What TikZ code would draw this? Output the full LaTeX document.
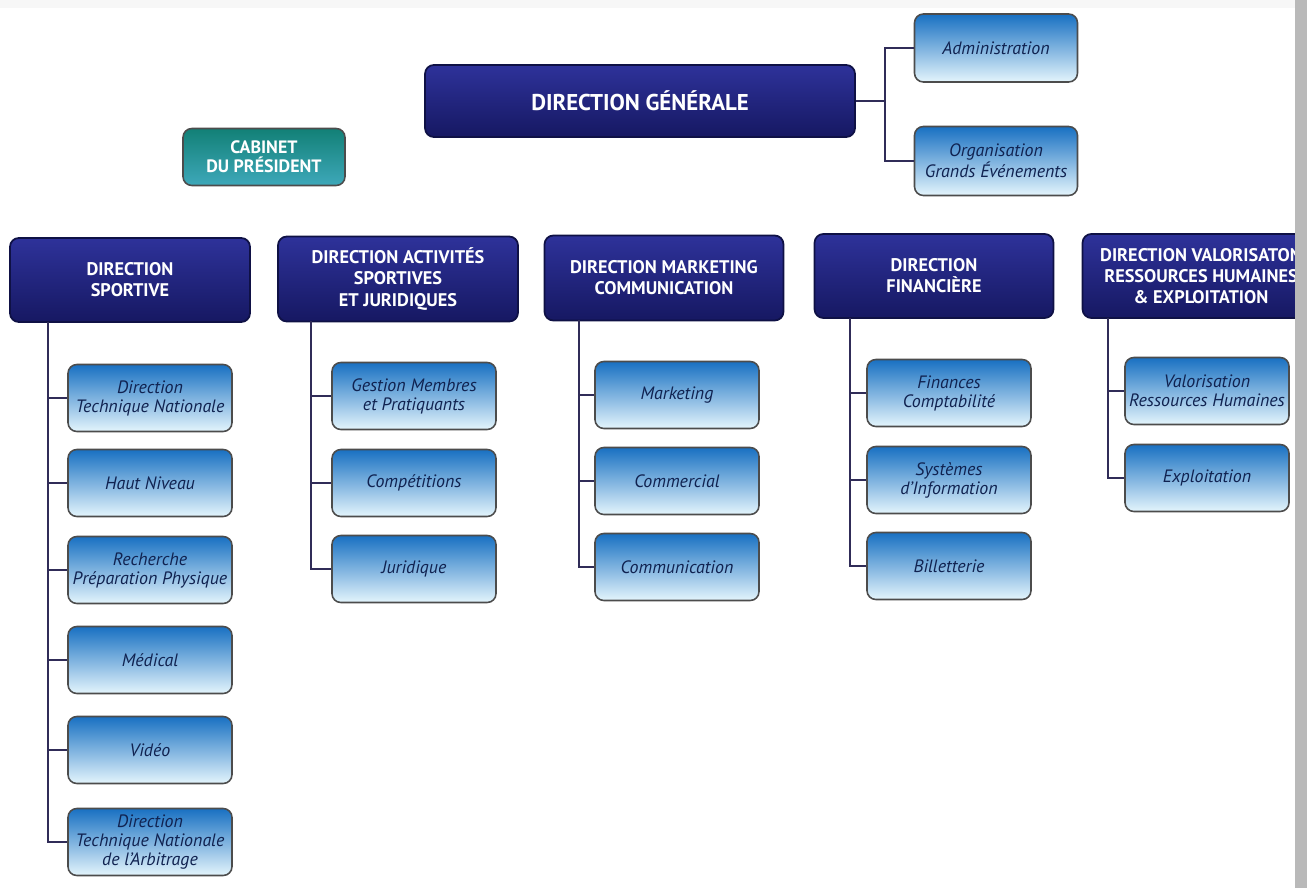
\documentclass[tikz,border=0pt]{standalone}
\usepackage{fontspec}
\setmainfont{PT Sans}
\usetikzlibrary{positioning}

\definecolor{navytop}{RGB}{46,50,154}
\definecolor{navybot}{RGB}{22,24,98}
\definecolor{unittop}{RGB}{24,112,194}
\definecolor{unitbot}{RGB}{228,245,252}
\definecolor{unittext}{RGB}{16,34,80}
\definecolor{cabtop}{RGB}{18,128,118}
\definecolor{cabbot}{RGB}{62,168,186}
\definecolor{linkcol}{RGB}{48,44,88}

\tikzset{
  dirbox/.style={rounded corners=5pt, draw=navybot!70!black, line width=1pt,
    top color=navytop, bottom color=navybot, text=white, align=center,
    font=\bfseries\fontsize{10.4}{12}\selectfont, inner sep=2pt},
  unitbox/.style={rounded corners=5pt, draw=gray!60!black, line width=0.9pt,
    top color=unittop, bottom color=unitbot, text=unittext, align=center,
    font=\itshape\fontsize{10.2}{10.8}\selectfont, inner sep=2pt,
    minimum width=3.28cm, minimum height=1.34cm},
  link/.style={draw=linkcol, line width=0.9pt}
}

\begin{document}
\begin{tikzpicture}[x=0.02cm,y=-0.02cm]
  \useasboundingbox (0,0) rectangle (1307,888);
  \clip (0,0) rectangle (1307,888);
  \fill[gray!6] (0,0) rectangle (1307,888);
  \fill[white] (0,8) rectangle (1295,888);

  % Top level
  \node[dirbox, minimum width=8.6cm, minimum height=1.44cm,
    font=\bfseries\fontsize{13}{15}\selectfont] (dg) at (640,101) {DIRECTION GÉNÉRALE};
  \node[unitbox, minimum width=3.26cm, minimum height=1.36cm] (adm) at (996,48) {Administration};
  \node[unitbox, minimum width=3.26cm, minimum height=1.38cm] (oge) at (996,161) {Organisation\\Grands Événements};
  \coordinate (dgx) at (885,101);
  \draw[link] (dg.east) -- (dgx);
  \draw[link] (dgx) |- (adm.west);
  \draw[link] (dgx) |- (oge.west);

  \node[rounded corners=5pt, draw=gray!60!black, line width=0.9pt,
    top color=cabtop, bottom color=cabbot, text=white, align=center,
    font=\bfseries\fontsize{10.2}{11}\selectfont, inner sep=1pt,
    minimum width=3.24cm, minimum height=1.14cm] (cab) at (264,157) {CABINET\\DU PRÉSIDENT};

  % Directions
  \node[dirbox, minimum width=4.8cm, minimum height=1.68cm] (ds) at (130,280) {DIRECTION\\SPORTIVE};
  \node[dirbox, minimum width=4.8cm, minimum height=1.7cm] (dasj) at (398,279) {DIRECTION ACTIVITÉS\\SPORTIVES\\ET JURIDIQUES};
  \node[dirbox, minimum width=4.78cm, minimum height=1.7cm] (dmc) at (664,278) {DIRECTION MARKETING\\COMMUNICATION};
  \node[dirbox, minimum width=4.78cm, minimum height=1.68cm] (df) at (934,276) {DIRECTION\\FINANCIÈRE};
  \node[dirbox, minimum width=4.74cm, minimum height=1.68cm] (dvr) at (1201,276) {DIRECTION VALORISATON\\RESSOURCES HUMAINES\\\& EXPLOITATION};

  % Direction sportive
  \node[unitbox] (dtn) at (150,398) {Direction\\Technique Nationale};
  \node[unitbox] (hn) at (150,483) {Haut Niveau};
  \node[unitbox] (rpp) at (150,570) {Recherche\\Préparation Physique};
  \node[unitbox] (med) at (150,660) {Médical};
  \node[unitbox] (vid) at (150,750) {Vidéo};
  \node[unitbox] (dtna) at (150,842) {Direction\\Technique Nationale\\de l'Arbitrage};
  \coordinate (dsx) at (48,322);
  \foreach \u in {dtn,hn,rpp,med,vid,dtna}
    \draw[link] (dsx) |- (\u.west);

  % Activites sportives et juridiques
  \node[unitbox] (gmp) at (414,396) {Gestion Membres\\et Pratiquants};
  \node[unitbox] (comp) at (414,483) {Compétitions};
  \node[unitbox] (jur) at (414,569) {Juridique};
  \coordinate (dasjx) at (311,321);
  \foreach \u in {gmp,comp,jur}
    \draw[link] (dasjx) |- (\u.west);

  % Marketing communication
  \node[unitbox] (mkt) at (677,395) {Marketing};
  \node[unitbox] (com) at (677,481) {Commercial};
  \node[unitbox] (cmn) at (677,567) {Communication};
  \coordinate (dmcx) at (579,320);
  \foreach \u in {mkt,com,cmn}
    \draw[link] (dmcx) |- (\u.west);

  % Financiere
  \node[unitbox] (fin) at (949,393) {Finances\\Comptabilité};
  \node[unitbox] (sys) at (949,480) {Systèmes\\d'Information};
  \node[unitbox] (bil) at (949,566) {Billetterie};
  \coordinate (dfx) at (850,318);
  \foreach \u in {fin,sys,bil}
    \draw[link] (dfx) |- (\u.west);

  % Valorisation RH et exploitation
  \node[unitbox] (vrh) at (1207,391) {Valorisation\\Ressources Humaines};
  \node[unitbox] (exp) at (1207,478) {Exploitation};
  \coordinate (dvrx) at (1108,318);
  \foreach \u in {vrh,exp}
    \draw[link] (dvrx) |- (\u.west);

  % page edge
  \fill[gray!55] (1295,0) rectangle (1307,888);
\end{tikzpicture}
\end{document}
